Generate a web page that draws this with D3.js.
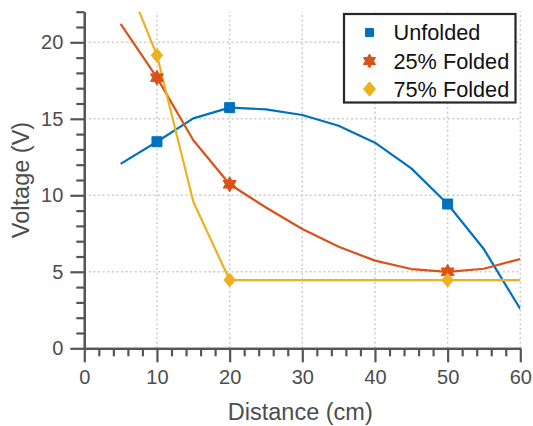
<!DOCTYPE html>
<html><head><meta charset="utf-8">
<script src="https://cdn.jsdelivr.net/npm/d3@7"></script>
<style>
html,body{margin:0;padding:0;background:#fff;}
svg{display:block;font-family:"Liberation Sans",Arial,Helvetica,sans-serif;}
</style></head>
<body>
<svg id="chart" width="533" height="426"></svg>
<script>
// ---- data ----
const distances = [5, 10, 15, 20, 25, 30, 35, 40, 45, 50, 55, 60];
const unfolded  = [12.05, 13.5, 15.03, 15.73, 15.62, 15.25, 14.55, 13.44, 11.76, 9.43, 6.47, 2.57];
const folded25  = [21.2, 17.69, 13.6, 10.72, 9.2, 7.8, 6.64, 5.73, 5.18, 5.0, 5.2, 5.84];
const folded75  = [25.0, 19.15, 9.58, 4.46, 4.46, 4.46, 4.46, 4.46, 4.46, 4.46, 4.46, 4.46];
const markerAt  = [10, 20, 50];
const seriesNames = ["Unfolded", "25% Folded", "75% Folded"];
const seriesColors = ["#0072BD", "#D95319", "#EDB120"];
const seriesMarkers = ["square", "hexagram", "diamond"];
const xTicks = [0, 10, 20, 30, 40, 50, 60];
const yTicks = [0, 5, 10, 15, 20];

const svg = d3.select("#chart");
const x = d3.scaleLinear().domain([0, 60]).range([84.3, 520.3]);
const y = d3.scaleLinear().domain([0, 22]).range([348.3, 11.7]);
const axisColor = "#555555";
const textColor = "#4d4d4d";

// clip
svg.append("defs").append("clipPath").attr("id", "clip")
  .append("rect").attr("x", x(0)).attr("y", y(22)).attr("width", x(60) - x(0)).attr("height", y(0) - y(22));

// grid
const grid = svg.append("g");
grid.selectAll(".gx").data(xTicks.filter(d => d > 0)).join("line")
  .attr("x1", d => x(d)).attr("x2", d => x(d)).attr("y1", y(0)).attr("y2", y(22))
  .attr("stroke", "#cccccc").attr("stroke-width", 1.5).attr("stroke-dasharray", "2,2.6");
grid.selectAll(".gy").data(yTicks.filter(d => d > 0)).join("line")
  .attr("y1", d => y(d)).attr("y2", d => y(d)).attr("x1", x(0)).attr("x2", x(60))
  .attr("stroke", "#cccccc").attr("stroke-width", 1.5).attr("stroke-dasharray", "2,2.6");

// axes
const xAxis = d3.axisBottom(x).tickValues(xTicks).tickSize(14).tickSizeOuter(0).tickPadding(8);
const xMinor = d3.axisBottom(x).tickValues(d3.range(0, 61, 2).filter(d => d % 10 !== 0)).tickSize(8).tickFormat("").tickSizeOuter(0);
const yAxis = d3.axisLeft(y).tickValues(yTicks).tickSize(14).tickSizeOuter(0).tickPadding(7);
const yMinor = d3.axisLeft(y).tickValues(d3.range(0, 23, 1).filter(d => d % 5 !== 0)).tickSize(8).tickFormat("").tickSizeOuter(0);

function styleAxis(g) {
  g.selectAll("path.domain").attr("stroke", axisColor).attr("stroke-width", 2.2);
  g.selectAll(".tick line").attr("stroke", axisColor).attr("stroke-width", 2.2);
  g.selectAll(".tick text").attr("fill", textColor).attr("font-size", 20)
    .attr("font-family", "'Liberation Sans',Arial,Helvetica,sans-serif");
}
svg.append("g").attr("transform", `translate(0,${y(0)})`).call(xMinor).call(styleAxis);
svg.append("g").attr("transform", `translate(${x(0)},0)`).call(yMinor).call(styleAxis);
svg.append("g").attr("transform", `translate(0,${y(0)})`).call(xAxis).call(styleAxis);
svg.append("g").attr("transform", `translate(${x(0)},0)`).call(yAxis).call(styleAxis);

// axis titles
svg.append("text").attr("x", (x(0) + x(60)) / 2 - 2).attr("y", 420)
  .attr("text-anchor", "middle").attr("fill", textColor).attr("font-size", 23.5).text("Distance (cm)");
svg.append("text").attr("transform", `translate(29,${(y(0) + y(22)) / 2}) rotate(-90)`)
  .attr("text-anchor", "middle").attr("fill", textColor).attr("font-size", 23.5).text("Voltage (V)");

// marker paths
function markerPath(type, s) {
  if (type === "square") {
    const h = s / 2;
    return `M${-h},${-h}H${h}V${h}H${-h}Z`;
  }
  if (type === "diamond") {
    const w = s * 0.46, h = s * 0.55;
    return `M0,${-h}L${w},0L0,${h}L${-w},0Z`;
  }
  // hexagram
  const R = s / 2, r = R / Math.sqrt(3);
  let p = "";
  for (let i = 0; i < 12; i++) {
    const a = -Math.PI / 2 + i * Math.PI / 6;
    const rr = i % 2 === 0 ? R : r;
    p += (i === 0 ? "M" : "L") + (rr * Math.cos(a)).toFixed(2) + "," + (rr * Math.sin(a)).toFixed(2);
  }
  return p + "Z";
}
const markerSize = {square: 10, hexagram: 15, diamond: 12.5};
const legendMarkerSize = {square: 8, hexagram: 14, diamond: 13};

const allSeries = [unfolded, folded25, folded75];
const plot = svg.append("g").attr("clip-path", "url(#clip)");
const line = d3.line().x(d => x(d[0])).y(d => y(d[1]));

allSeries.forEach((vals, i) => {
  const pts = distances.map((d, j) => [d, vals[j]]);
  plot.append("path").datum(pts).attr("d", line)
    .attr("fill", "none").attr("stroke", seriesColors[i]).attr("stroke-width", 2.2)
    .attr("stroke-linejoin", "round");
});
allSeries.forEach((vals, i) => {
  const pts = distances.map((d, j) => [d, vals[j]]).filter(p => markerAt.includes(p[0]));
  plot.selectAll(null).data(pts).join("path")
    .attr("transform", d => `translate(${x(d[0])},${y(d[1])})`)
    .attr("d", markerPath(seriesMarkers[i], markerSize[seriesMarkers[i]]))
    .attr("fill", seriesColors[i]).attr("stroke", seriesColors[i]).attr("stroke-width", 1);
});

// legend
const lg = svg.append("g");
lg.append("rect").attr("x", 344).attr("y", 14).attr("width", 171.5).attr("height", 88.5)
  .attr("fill", "#fff").attr("stroke", "#262626").attr("stroke-width", 2.2);
const rowY = [32.5, 61, 89];
seriesNames.forEach((name, i) => {
  lg.append("path").attr("transform", `translate(369.5,${rowY[i]})`)
    .attr("d", markerPath(seriesMarkers[i], legendMarkerSize[seriesMarkers[i]]))
    .attr("fill", seriesColors[i]).attr("stroke", seriesColors[i]).attr("stroke-width", 1);
  lg.append("text").attr("x", 393.5).attr("y", rowY[i]).attr("dy", "0.36em")
    .attr("font-size", 21.7).attr("fill", "#111").text(name);
});
</script>
</body></html>
